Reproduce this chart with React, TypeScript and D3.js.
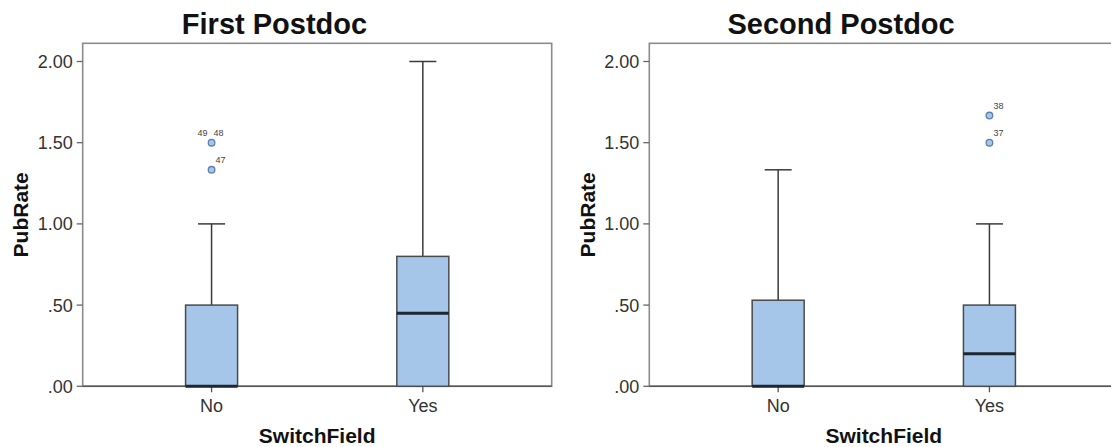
import React from "react";
import * as d3 from "d3";

// ---- Data ----
const categories = ["No", "Yes"];
const yTicks = [0, 0.5, 1, 1.5, 2];

const firstLow = [0, 0];
const firstQ1 = [0, 0];
const firstMedian = [0, 0.45];
const firstQ3 = [0.5, 0.8];
const firstHigh = [1.0, 2.0];
const firstOutliers = [
  { cat: "No", value: 1.5, labels: ["49", "48"] },
  { cat: "No", value: 1.333, labels: ["47"] },
];

const secondLow = [0, 0];
const secondQ1 = [0, 0];
const secondMedian = [0, 0.2];
const secondQ3 = [0.53, 0.5];
const secondHigh = [1.333, 1.0];
const secondOutliers = [
  { cat: "Yes", value: 1.667, labels: ["38"] },
  { cat: "Yes", value: 1.5, labels: ["37"] },
];

const FONT = "'Liberation Sans', Arial, Helvetica, sans-serif";

type Outlier = { cat: string; value: number; labels: string[] };

function fmt(v: number) {
  const s = v.toFixed(2);
  return s.startsWith("0") ? s.slice(1) : s;
}

function Panel(props: {
  offset: number;
  title: string;
  low: number[];
  q1: number[];
  median: number[];
  q3: number[];
  high: number[];
  outliers: Outlier[];
}) {
  const { offset, title, low, q1, median, q3, high, outliers } = props;
  const left = 82.7 + offset;
  const right = 551.7 + offset;
  const top = 43.3;
  const bottom = 386.3;
  const y = d3.scaleLinear().domain([0, 2.112]).range([bottom, top]);
  const x = d3.scalePoint<string>().domain(categories).range([left, right]).padding(0.61);
  const boxW = 52;
  const capW = 27;
  const cx = (left + right) / 2;

  return (
    <g>
      <text x={offset + 274.5} y={33.5} textAnchor="middle" fontFamily={FONT} fontWeight="bold" fontSize={29} fill="#111">
        {title}
      </text>
      {/* frame */}
      <rect x={left} y={top} width={right - left} height={bottom - top} fill="none" stroke="#8c8c8c" strokeWidth={1.6} />
      <line x1={left} x2={right} y1={bottom} y2={bottom} stroke="#555" strokeWidth={1.4} />
      {/* y ticks */}
      {yTicks.map((t) => (
        <g key={t}>
          <line x1={left - 6} x2={left} y1={y(t)} y2={y(t)} stroke="#666" strokeWidth={1.3} />
          <text x={left - 10} y={y(t)} dy="0.36em" textAnchor="end" fontFamily={FONT} fontSize={18} fill="#333">
            {fmt(t)}
          </text>
        </g>
      ))}
      {/* x ticks */}
      {categories.map((c) => (
        <g key={c}>
          <line x1={x(c)} x2={x(c)} y1={bottom} y2={bottom + 6} stroke="#555" strokeWidth={1.3} />
          <text x={x(c)} y={411.7} textAnchor="middle" fontFamily={FONT} fontSize={18} fill="#333">
            {c}
          </text>
        </g>
      ))}
      {/* axis titles */}
      <text transform={`translate(${offset + 28.3},${(top + bottom) / 2}) rotate(-90)`} textAnchor="middle" fontFamily={FONT} fontWeight="bold" fontSize={21} fill="#111">
        PubRate
      </text>
      <text x={cx} y={443} textAnchor="middle" fontFamily={FONT} fontWeight="bold" fontSize={21} fill="#111">
        SwitchField
      </text>
      {/* boxes */}
      {categories.map((c, i) => {
        const xc = x(c) as number;
        return (
          <g key={c}>
            {high[i] > q3[i] && (
              <>
                <line x1={xc} x2={xc} y1={y(q3[i])} y2={y(high[i])} stroke="#3a3a3a" strokeWidth={1.5} />
                <line x1={xc - capW / 2} x2={xc + capW / 2} y1={y(high[i])} y2={y(high[i])} stroke="#3a3a3a" strokeWidth={1.5} />
              </>
            )}
            {low[i] < q1[i] && (
              <>
                <line x1={xc} x2={xc} y1={y(q1[i])} y2={y(low[i])} stroke="#3a3a3a" strokeWidth={1.5} />
                <line x1={xc - capW / 2} x2={xc + capW / 2} y1={y(low[i])} y2={y(low[i])} stroke="#3a3a3a" strokeWidth={1.5} />
              </>
            )}
            <rect x={xc - boxW / 2} y={y(q3[i])} width={boxW} height={y(q1[i]) - y(q3[i])} fill="#a6c6e9" stroke="#4a4a4a" strokeWidth={1.5} />
            <line x1={xc - boxW / 2} x2={xc + boxW / 2} y1={y(median[i])} y2={y(median[i])} stroke="#1e2731" strokeWidth={3} />
          </g>
        );
      })}
      {/* outliers */}
      {outliers.map((o, k) => {
        const xc = x(o.cat) as number;
        const yc = y(o.value);
        return (
          <g key={k}>
            <circle cx={xc} cy={yc} r={3.3} fill="#a6c6e9" stroke="#5b7fae" strokeWidth={1.3} />
            {o.labels.length === 2 ? (
              <>
                <text x={xc - 4} y={yc - 7} textAnchor="end" fontFamily={FONT} fontSize={9} fill="#444">
                  {o.labels[0]}
                </text>
                <text x={xc + 2} y={yc - 7} textAnchor="start" fontFamily={FONT} fontSize={9} fill="#444">
                  {o.labels[1]}
                </text>
              </>
            ) : (
              <text x={xc + 4} y={yc - 7} textAnchor="start" fontFamily={FONT} fontSize={9} fill="#444">
                {o.labels[0]}
              </text>
            )}
          </g>
        );
      })}
    </g>
  );
}

export default function App() {
  return (
    <svg
      width={1111}
      height={447}
      style={{ position: "absolute", left: 0, top: 0, background: "#fff" }}
    >
      <rect width={1111} height={447} fill="#fff" />
      <Panel
        offset={0}
        title="First Postdoc"
        low={firstLow}
        q1={firstQ1}
        median={firstMedian}
        q3={firstQ3}
        high={firstHigh}
        outliers={firstOutliers}
      />
      <Panel
        offset={566.6}
        title="Second Postdoc"
        low={secondLow}
        q1={secondQ1}
        median={secondMedian}
        q3={secondQ3}
        high={secondHigh}
        outliers={secondOutliers}
      />
    </svg>
  );
}
